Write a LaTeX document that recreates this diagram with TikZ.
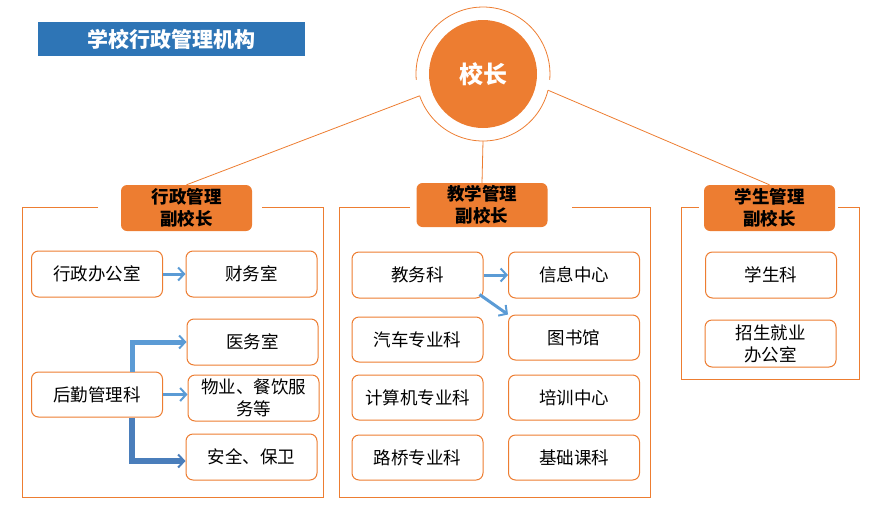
\documentclass[tikz,border=0pt]{standalone}
\usepackage{fontspec}
\setmainfont{Noto Sans CJK SC}
\usetikzlibrary{arrows.meta}
\definecolor{accent}{HTML}{ED7D31}
\definecolor{titleblue}{HTML}{2E75B6}
\definecolor{flowblue}{HTML}{5B9BD5}
\definecolor{flowdark}{HTML}{4A7EBB}

\begin{document}
\begin{tikzpicture}[x=1pt,y=-1pt,
    unit/.style ={draw=accent, line width=1pt, rounded corners=7pt, fill=white, minimum width=131pt, minimum height=46pt, align=center, inner sep=2pt, font=\fontsize{17.5}{22}\selectfont},
    vice/.style ={fill=accent, rounded corners=6pt, minimum width=131pt, minimum height=46pt, align=center, inner sep=1pt, font=\fontsize{17.5}{22}\selectfont\bfseries},
    link/.style ={draw=accent, line width=0.8pt},
    flow/.style ={draw=flowblue, line width=3pt, -{Straight Barb[length=6pt,width=13pt,line width=2pt]}}]
   \useasboundingbox (0,0) rectangle (870,504);

   % title and principal
   \node[fill=titleblue, text=white, minimum width=267pt, minimum height=34pt, font=\fontsize{21}{24}\selectfont\bfseries] (title) at (171.5,39) {学校行政管理机构};
   \node[circle, fill=accent, text=white, minimum size=108pt, font=\fontsize{24}{28}\selectfont\bfseries] (boss) at (483,74) {校长};
   \draw[link] (boss) ++(175:67) arc[start angle=175, end angle=365, radius=67];
   \draw[link] (boss) ++(14:67) arc[start angle=14, end angle=161, radius=67];

   % vice principals
   \node[vice] (v1) at (186.5,208) {行政管理\\副校长};
   \node[vice, minimum height=44pt] (v2) at (482,205) {教学管理\\副校长};
   \node[vice] (v3) at (769.5,208) {学生管理\\副校长};
   \draw[link] (boss) ++(161:67) -- (v1.north);
   \draw[link] (boss) ++(90:67) -- (v2.north);
   \draw[link] (boss) ++(14:67) -- (v3.north);

   % group frames
   \draw[link] (98,207) -| (22,497) -| (323,207) -- (262,207);
   \draw[link] (410,207) -| (339,497) -| (650,207) -- (572,207);
   \draw[link] (699,207) -| (681,379) -| (859,207) -- (838,207);

   % administration
   \node[unit] (a1) at (97,274) {行政办公室};
   \node[unit] (a2) at (251.5,274) {财务室};
   \node[unit] (a3) at (252.5,342) {医务室};
   \node[unit] (a4) at (253.5,398) {物业、餐饮服\\务等};
   \node[unit] (a5) at (251.5,457) {安全、保卫};
   \node[unit, minimum height=45pt] (a6) at (97,394.5) {后勤管理科};
   \draw[flow] (a1) -- (a2);
   \draw[flow] (a6.east) -- (a6.east -| a4.west);
   \draw[flow, line width=5pt] ([xshift=35]a6.north) |- (a3.west);
   \draw[flow, draw=flowdark, line width=6pt] ([xshift=35]a6.south) |- ([yshift=-4]a5.west);

   % teaching
   \node[unit] (b1) at (417.5,275) {教务科};
   \node[unit] (b2) at (574,275) {信息中心};
   \node[unit, minimum height=45pt] (b3) at (417.5,339.5) {汽车专业科};
   \node[unit, minimum height=45pt] (b4) at (574,337.5) {图书馆};
   \node[unit, minimum height=45pt] (b5) at (417.5,397.5) {计算机专业科};
   \node[unit, minimum height=45pt] (b6) at (574,397.5) {培训中心};
   \node[unit, minimum height=45pt] (b7) at (417.5,457.5) {路桥专业科};
   \node[unit, minimum height=45pt] (b8) at (574,457.5) {基础课科};
   \draw[flow] (b1) -- (b2);
   \draw[flow] ([shift={(-4,-4)}]b1.south east) -- (b4.north west);

   % students
   \node[unit] (c1) at (771,275) {学生科};
   \node[unit, minimum height=47pt] (c2) at (770.5,343.5) {招生就业\\办公室};
\end{tikzpicture}
\end{document}
